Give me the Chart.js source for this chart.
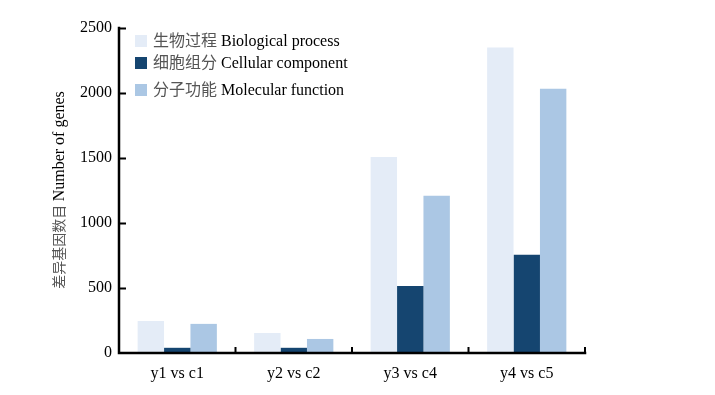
<!DOCTYPE html>
<html>
<head>
<meta charset="utf-8">
<script src="https://cdn.jsdelivr.net/npm/chart.js@4"></script>
<style>
  body { margin: 0; background: #fff; }
</style>
</head>
<body>
<canvas id="MyChart" width="715" height="395"></canvas>
<script>
const categories = ['y1 vs c1', 'y2 vs c2', 'y3 vs c4', 'y4 vs c5']
const seriesZh = ['生物过程', '细胞组分', '分子功能']
const seriesEn = ['Biological process', 'Cellular component', 'Molecular function']
const biological = [246, 154, 1508, 2350]
const cellular = [40, 40, 515, 755]
const molecular = [224, 108, 1210, 2032]
const yTicks = [0, 500, 1000, 1500, 2000, 2500]

const colors = ['#e4ecf7', '#154570', '#abc7e4']
const FONT = "'Liberation Serif', 'Noto Sans CJK SC', serif"
const ZH_COLOR = '#555555'
const legendRows = [7, 29, 56]   // box tops below chart area top

// axis lines, inward ticks, legend and the two-colour y title
const decor = {
    id: 'decor',
    afterDraw(chart) {
        const ctx = chart.ctx
        const a = chart.chartArea
        const y = chart.scales.y
        ctx.save()
        ctx.strokeStyle = '#000'
        ctx.lineCap = 'square'
        ctx.lineWidth = 2.5
        ctx.beginPath()
        ctx.moveTo(a.left, a.top)
        ctx.lineTo(a.left, a.bottom)
        ctx.lineTo(a.right, a.bottom)
        ctx.stroke()

        ctx.lineCap = 'butt'
        ctx.lineWidth = 2
        ctx.beginPath()
        yTicks.forEach(v => {
            if (v === 0) return
            const py = Math.round(y.getPixelForValue(v)) + 0.5
            ctx.moveTo(a.left, py)
            ctx.lineTo(a.left + 7, py)
        })
        const step = a.width / categories.length
        for (let i = 1; i <= categories.length; i++) {
            const px = a.left + step * i
            ctx.moveTo(px, a.bottom)
            ctx.lineTo(px, a.bottom - 6)
        }
        ctx.stroke()

        // legend
        ctx.font = '16px ' + FONT
        ctx.textBaseline = 'middle'
        chart.data.datasets.forEach((ds, i) => {
            const by = a.top + legendRows[i]
            ctx.fillStyle = ds.backgroundColor
            ctx.fillRect(a.left + 16, by, 12, 12)
            let tx = a.left + 34
            ctx.fillStyle = ZH_COLOR
            ctx.fillText(seriesZh[i] + ' ', tx, by + 7)
            tx += ctx.measureText(seriesZh[i] + ' ').width
            ctx.fillStyle = '#000'
            ctx.fillText(seriesEn[i], tx, by + 7)
        })

        // y axis title
        const zh = '差异基因数目 '
        const en = 'Number of genes'
        ctx.font = '14px ' + FONT
        const wz = ctx.measureText(zh).width
        ctx.font = '16px ' + FONT
        const we = ctx.measureText(en).width
        ctx.translate(60, 190)
        ctx.rotate(-Math.PI / 2)
        ctx.textAlign = 'left'
        ctx.font = '14px ' + FONT
        ctx.fillStyle = ZH_COLOR
        ctx.fillText(zh, -(wz + we) / 2, 0)
        ctx.font = '16px ' + FONT
        ctx.fillStyle = '#000'
        ctx.fillText(en, -(wz + we) / 2 + wz, 0)
        ctx.restore()
    }
}

const datasets = [biological, cellular, molecular].map((d, i) => ({
    label: seriesZh[i] + ' ' + seriesEn[i],
    data: d,
    backgroundColor: colors[i],
    categoryPercentage: 0.68,
    barPercentage: 1
}))

new Chart(document.getElementById('MyChart').getContext('2d'), {
    type: 'bar',
    data: { labels: categories, datasets: datasets },
    plugins: [decor],
    options: {
        responsive: false,
        animation: false,
        layout: { padding: { left: 0, right: 130, top: 28, bottom: 0 } },
        plugins: {
            legend: { display: false },
            tooltip: { enabled: false }
        },
        scales: {
            x: {
                grid: { display: false, drawTicks: false },
                border: { display: false },
                ticks: { color: '#000', font: { family: FONT, size: 16 }, padding: 11 },
                afterFit(scale) { scale.height = 42 }
            },
            y: {
                min: 0,
                max: 2500,
                grid: { display: false, drawTicks: false },
                border: { display: false },
                ticks: {
                    stepSize: 500,
                    color: '#000',
                    font: { family: FONT, size: 16 },
                    padding: 7,
                    callback: v => String(v)
                },
                afterFit(scale) { scale.width = 119 }
            }
        }
    }
})
</script>
</body>
</html>
